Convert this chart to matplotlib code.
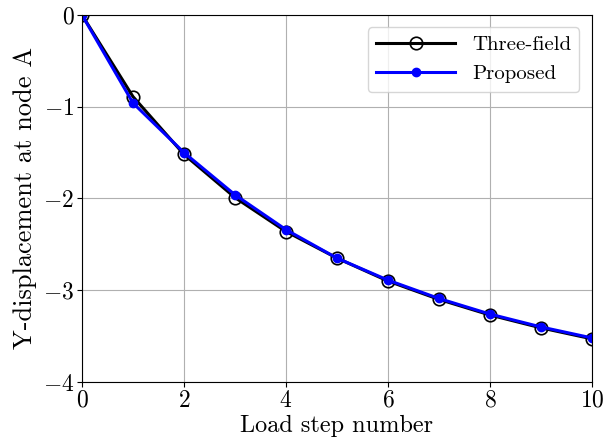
import numpy as np
import matplotlib
matplotlib.use("Agg")
import matplotlib.pyplot as plt

plt.rcParams['font.family'] = 'serif'
plt.rcParams['font.serif'] = ['cmr10']
plt.rcParams['mathtext.fontset'] = 'cm'
plt.rcParams['axes.formatter.use_mathtext'] = True

# load steps and y-displacement at node A
steps = [0, 1, 2, 3, 4, 5, 6, 7, 8, 9, 10]
three_field = [0.0, -0.89, -1.52, -1.99, -2.36, -2.65, -2.90, -3.10, -3.27, -3.41, -3.53]
proposed = [0.0, -0.96, -1.50, -1.96, -2.34, -2.65, -2.89, -3.09, -3.26, -3.40, -3.52]

fig = plt.figure(figsize=(6.05, 4.46), dpi=100)
axes = fig.add_axes([0.1355, 0.1435, 0.843, 0.823])

axes.plot(steps, three_field, color='black', lw=2.2, marker='o', markersize=9,
          markerfacecolor='none', markeredgecolor='black', markeredgewidth=1.2,
          label='Three-field')
axes.plot(steps, proposed, color='blue', lw=2.2, marker='o', markersize=6,
          label='Proposed')

axes.set_xlim(0, 10)
axes.set_ylim(-4, 0)
axes.set_xticks([0, 2, 4, 6, 8, 10])
axes.set_yticks([0, -1, -2, -3, -4])
axes.tick_params(labelsize=17, pad=2)
axes.set_xlabel('Load step number', fontsize=17.5, labelpad=2)
axes.set_ylabel('Y-displacement at node A', fontsize=19, labelpad=4)
axes.grid(True, color='#b0b0b0', lw=0.8)
axes.legend(loc='upper right', fontsize=15, handlelength=3.8, borderaxespad=0.6)

plt.savefig("out.png")
